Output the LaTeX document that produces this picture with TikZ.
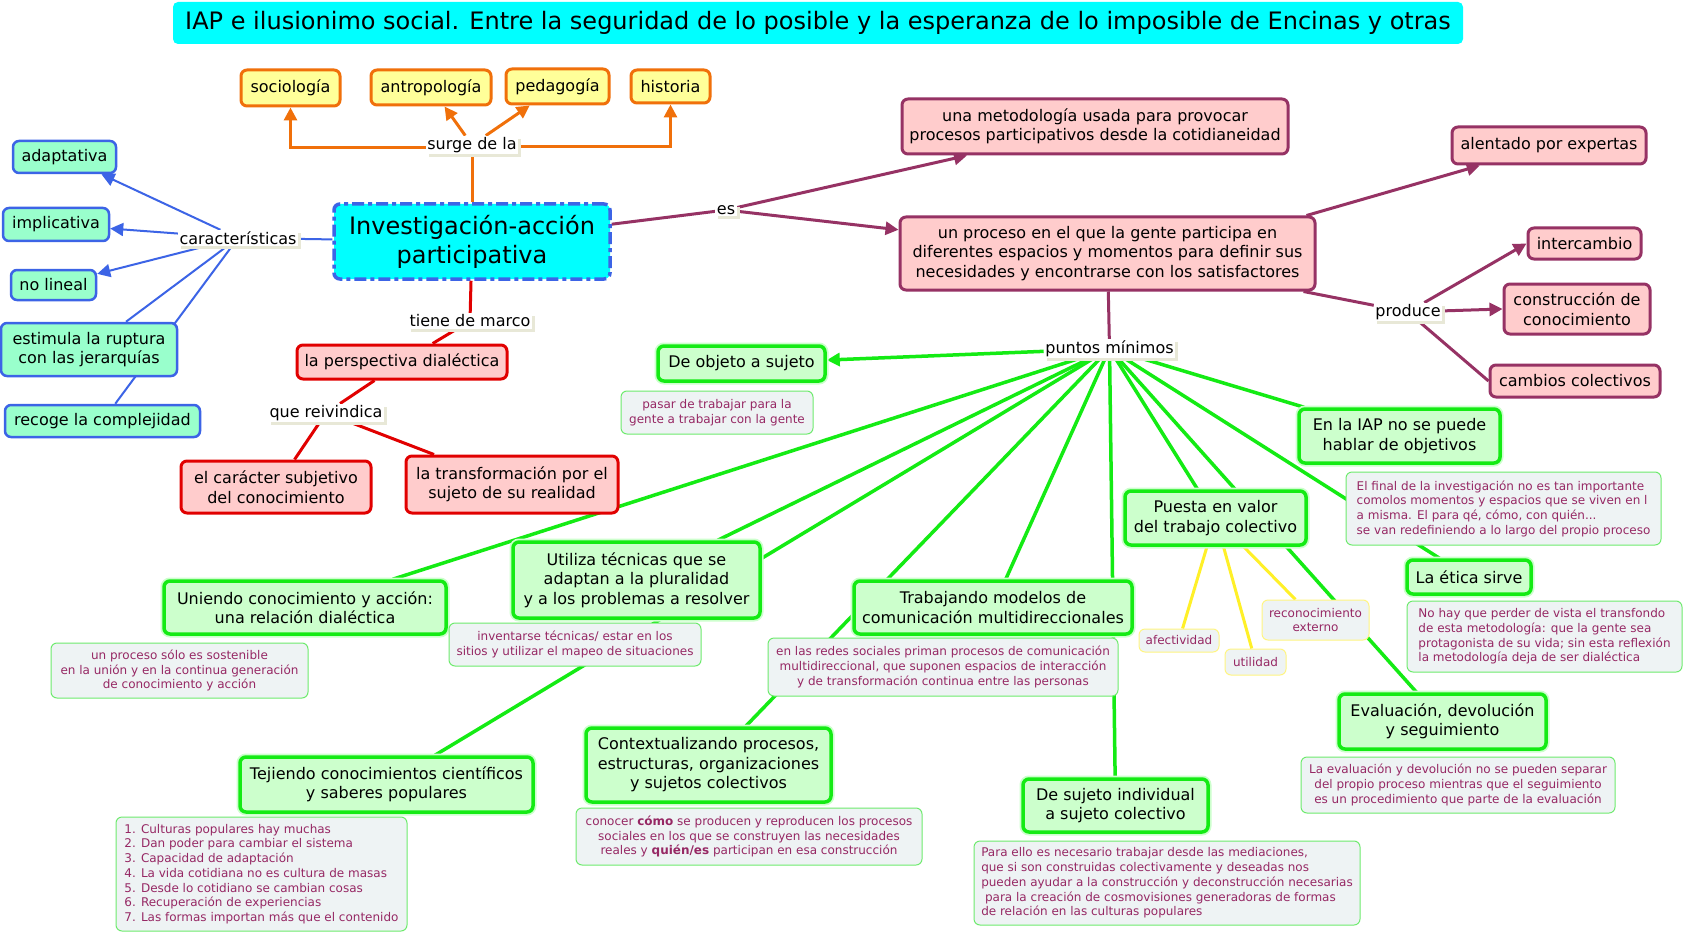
\documentclass[tikz,border=0pt]{standalone}
\usepackage{fontspec}
\setmainfont{DejaVu Sans}
\usetikzlibrary{arrows.meta,shadows,backgrounds}
\definecolor{cyanT}{RGB}{0,255,255}
\definecolor{orangeB}{RGB}{240,112,10}
\definecolor{yellowF}{RGB}{255,255,153}
\definecolor{blueB}{RGB}{60,100,230}
\definecolor{mintF}{RGB}{153,255,204}
\definecolor{purpleB}{RGB}{150,50,100}
\definecolor{pinkF}{RGB}{255,204,204}
\definecolor{redB}{RGB}{225,0,0}
\definecolor{greenB}{RGB}{20,235,20}
\definecolor{lgreenF}{RGB}{204,255,204}
\definecolor{glowc}{RGB}{205,255,205}
\definecolor{annF}{RGB}{238,243,244}
\definecolor{annB}{RGB}{110,235,110}
\definecolor{annT}{RGB}{150,40,100}
\definecolor{yelL}{RGB}{255,240,40}
\definecolor{yelB}{RGB}{255,245,130}
\definecolor{labShadow}{RGB}{232,232,215}
\begin{document}
\begin{tikzpicture}[x=1pt,y=-1pt,
  mainfont/.style={font=\fontsize{16}{19.5}\selectfont},
  basebox/.style={rounded corners=6pt, align=center, mainfont, inner sep=3pt},
  obox/.style={basebox, draw=orangeB, fill=yellowF, line width=3pt},
  bbox/.style={basebox, draw=blueB, fill=mintF, line width=2.5pt},
  pbox/.style={basebox, draw=purpleB, fill=pinkF, line width=3pt},
  rbox/.style={basebox, draw=redB, fill=pinkF, line width=3pt},
  gbox/.style={basebox, draw=greenB, fill=lgreenF, line width=3.5pt, preaction={draw=glowc, line width=7pt}},
  annot/.style={rounded corners=6pt, draw=annB, fill=annF, line width=1pt, text=annT, font=\fontsize{12}{14.7}\selectfont, inner sep=2pt},
  yannot/.style={annot, draw=yelB},
  lab/.style={mainfont, fill=white, inner sep=1.5pt, general shadow={fill=labShadow, shadow xshift=3pt, shadow yshift=-3pt}},
  tip/.style={-{Triangle[length=13pt,width=13pt]}},
  oline/.style={draw=orangeB, line width=3pt},
  bline/.style={draw=blueB, line width=2pt},
  pline/.style={draw=purpleB, line width=3pt},
  rline/.style={draw=redB, line width=3pt},
  gline/.style={draw=greenB, line width=3.5pt},
  yline/.style={draw=yelL, line width=3pt}
]
\useasboundingbox (0,0) rectangle (1685,933);

% title
\node[rounded corners=5pt, fill=cyanT, minimum width=1290pt, minimum height=42pt, font=\fontsize{24}{28}\selectfont] (title) at (818,23)
  {IAP e ilusionimo social. Entre la seguridad de lo posible y la esperanza de lo imposible de Encinas y otras};

% main concept
\node[rounded corners=6pt, draw=blueB, fill=cyanT, line width=3.5pt, dash pattern=on 12pt off 4pt on 4pt off 4pt,
  minimum width=276pt, minimum height=75pt, align=center, font=\fontsize{24}{29}\selectfont] (iap) at (472,241.5)
  {Investigación-acción\\participativa};

% orange
\node[obox, minimum width=99pt, minimum height=36pt] (socio) at (290.5,88) {sociología};
\node[obox, minimum width=120pt, minimum height=35pt] (antro) at (431,87.5) {antropología};
\node[obox, minimum width=103pt, minimum height=35pt] (peda) at (557.5,86.5) {pedagogía};
\node[obox, minimum width=79pt, minimum height=33pt] (hist) at (670.5,86.5) {historia};
\node[lab] (surge) at (472,145) {surge de la};

% blue
\node[bbox, minimum width=103pt, minimum height=32pt] (adapt) at (64.5,157) {adaptativa};
\node[bbox, minimum width=106pt, minimum height=33pt] (implic) at (56,224.5) {implicativa};
\node[bbox, minimum width=85pt, minimum height=30pt] (nolin) at (53.5,285) {no lineal};
\node[bbox, minimum width=176pt, minimum height=53pt] (estim) at (89,349.5) {estimula la ruptura\\con las jerarquías};
\node[bbox, minimum width=195pt, minimum height=32pt] (recoge) at (102.5,421) {recoge la complejidad};
\node[lab] (carac) at (238,238) {características};

% purple
\node[lab] (es) at (726,210) {es};
\node[pbox, minimum width=386pt, minimum height=55pt] (metod) at (1095,126.5) {una metodología usada para provocar\\procesos participativos desde la cotidianeidad};
\node[pbox, minimum width=415pt, minimum height=73pt] (proceso) at (1107.5,253.5) {un proceso en el que la gente participa en\\diferentes espacios y momentos para definir sus\\necesidades y encontrarse con los satisfactores};
\node[pbox, minimum width=194pt, minimum height=37pt] (alentado) at (1549,145.5) {alentado por expertas};
\node[lab] (produce) at (1408,312) {produce};
\node[pbox, minimum width=113pt, minimum height=31pt] (interc) at (1584.5,243.5) {intercambio};
\node[pbox, minimum width=146pt, minimum height=50pt] (constr) at (1577,309) {construcción de\\conocimiento};
\node[pbox, minimum width=170pt, minimum height=32pt] (cambios) at (1575,381) {cambios colectivos};

% red
\node[lab] (tiene) at (470,321) {tiene de marco};
\node[rbox, minimum width=210pt, minimum height=34pt] (persp) at (402,362) {la perspectiva dialéctica};
\node[lab] (reiv) at (326,413) {que reivindica};
\node[rbox, minimum width=190pt, minimum height=52pt] (caract) at (276,487) {el carácter subjetivo\\del conocimiento};
\node[rbox, minimum width=212pt, minimum height=57pt] (transf) at (512,484.5) {la transformación por el\\sujeto de su realidad};

% green
\node[lab] (puntos) at (1109.5,348.7) {puntos mínimos};
\node[gbox, minimum width=167pt, minimum height=35pt] (objeto) at (741.5,363.5) {De objeto a sujeto};
\node[gbox, minimum width=282pt, minimum height=53pt] (unir) at (305,607.5) {Uniendo conocimiento y acción:\\una relación dialéctica};
\node[gbox, minimum width=247pt, minimum height=76pt] (utiliza) at (636.5,580) {Utiliza técnicas que se\\adaptan a la pluralidad\\y a los problemas a resolver};
\node[gbox, minimum width=293pt, minimum height=55pt] (tejiendo) at (386.5,784.5) {Tejiendo conocimientos científicos\\y saberes populares};
\node[gbox, minimum width=278pt, minimum height=53pt] (trabaj) at (993,607.5) {Trabajando modelos de\\comunicación multidireccionales};
\node[gbox, minimum width=245pt, minimum height=74pt] (ctx) at (708.5,765) {Contextualizando procesos,\\estructuras, organizaciones\\y sujetos colectivos};
\node[gbox, minimum width=185pt, minimum height=53pt] (sujeto) at (1115.5,805.5) {De sujeto individual\\a sujeto colectivo};
\node[gbox, minimum width=181pt, minimum height=54pt] (puesta) at (1215.5,518) {Puesta en valor\\del trabajo colectivo};
\node[gbox, minimum width=207pt, minimum height=55pt] (evalu) at (1442.5,721.5) {Evaluación, devolución\\y seguimiento};
\node[gbox, minimum width=201pt, minimum height=54pt] (iapobj) at (1399.5,436) {En la IAP no se puede\\hablar de objetivos};
\node[gbox, minimum width=124pt, minimum height=34pt] (etica) at (1469,577) {La ética sirve};

% annotations
\node[annot, minimum width=192pt, minimum height=43pt, align=center] (aobj) at (717,412.5) {pasar de trabajar para la\\gente a trabajar con la gente};
\node[annot, minimum width=257pt, minimum height=55pt, align=center] (aunir) at (179.5,670.5) {un proceso sólo es sostenible\\en la unión y en la continua generación\\de conocimiento y acción};
\node[annot, minimum width=252pt, minimum height=43pt, align=center] (autil) at (575,644.5) {inventarse técnicas/ estar en los\\sitios y utilizar el mapeo de situaciones};
\node[annot, minimum width=291pt, minimum height=114pt, align=left] (atej) at (261.5,874) {1. Culturas populares hay muchas\\2. Dan poder para cambiar el sistema\\3. Capacidad de adaptación\\4. La vida cotidiana no es cultura de masas\\5. Desde lo cotidiano se cambian cosas\\6. Recuperación de experiencias\\7. Las formas importan más que el contenido};
\node[annot, minimum width=350pt, minimum height=58pt, align=center] (atrab) at (943,667) {en las redes sociales priman procesos de comunicación\\multidireccional, que suponen espacios de interacción\\y de transformación continua entre las personas};
\node[annot, minimum width=346pt, minimum height=57pt, align=center] (actx) at (749,836.5) {conocer \textbf{cómo} se producen y reproducen los procesos\\sociales en los que se construyen las necesidades\\reales y \textbf{quién/es} participan en esa construcción};
\node[annot, minimum width=386pt, minimum height=84pt, align=left] (asuj) at (1167,883) {Para ello es necesario trabajar desde las mediaciones,\\que si son construidas colectivamente y deseadas nos\\pueden ayudar a la construcción y deconstrucción necesarias\\\ para la creación de cosmovisiones generadoras de formas\\de relación en las culturas populares};
\node[annot, minimum width=314pt, minimum height=56pt, align=center] (aeval) at (1458,785) {La evaluación y devolución no se pueden separar\\del propio proceso mientras que el seguimiento\\es un procedimiento que parte de la evaluación};
\node[annot, minimum width=315pt, minimum height=73pt, align=left] (afinal) at (1503.5,508.5) {El final de la investigación no es tan importante\\comolos momentos y espacios que se viven en l\\a misma. El para qé, cómo, con quién...\\se van redefiniendo a lo largo del propio proceso};
\node[annot, minimum width=275pt, minimum height=71pt, align=left] (aetica) at (1544.5,636.5) {No hay que perder de vista el transfondo\\de esta metodología: que la gente sea\\protagonista de su vida; sin esta reflexión\\la metodología deja de ser dialéctica};
\node[yannot, minimum width=80pt, minimum height=23pt] (afect) at (1179,640.5) {afectividad};
\node[yannot, minimum width=61pt, minimum height=26pt] (util) at (1255.5,662) {utilidad};
\node[yannot, minimum width=107pt, minimum height=40pt, align=center] (recon) at (1315.5,620) {reconocimiento\\externo};

\begin{pgfonlayer}{background}
\fill[white] (0,0) rectangle (1685,933);
% orange
\draw[oline] (iap.north) -- (surge.south);
\draw[oline,tip] ([yshift=-3pt]surge.west) -| (socio.south);
\draw[oline,tip] ([yshift=-2pt]surge.east) -| (hist.south);
\draw[oline,tip] (surge) -- (antro);
\draw[oline,tip] (surge) -- (peda);
% blue
\draw[bline] (iap) -- (carac);
\draw[bline,tip] (carac) -- (adapt);
\draw[bline,tip] (carac) -- (implic);
\draw[bline,tip] (carac) -- (nolin);
\draw[bline] (carac) -- (estim);
\draw[bline] (carac) -- (recoge);
% purple
\draw[pline] (iap) -- (es);
\draw[pline,tip] (es) -- (metod);
\draw[pline,tip] (es) -- (proceso);
\draw[pline,tip] ([xshift=-10pt]proceso.north east) -- (alentado);
\draw[pline] ([xshift=-13pt]proceso.south east) -- (produce);
\draw[pline,tip] (produce) -- (interc.west);
\draw[pline,tip] (produce) -- (constr.west);
\draw[pline] (produce) -- (cambios.west);
% red
\draw[rline] (iap) -- (tiene);
\draw[rline] (tiene) -- (persp);
\draw[rline] (persp) -- (reiv);
\draw[rline] (reiv) -- (caract);
\draw[rline] (reiv) -- (transf);
% green
\draw[pline] (proceso) -- (puntos);
\draw[gline,tip] (puntos) -- (objeto);
\draw[gline] (puntos) -- (unir);
\draw[gline] (puntos) -- (utiliza);
\draw[gline] (puntos) -- (tejiendo);
\draw[gline] (puntos) -- (trabaj);
\draw[gline] (puntos) -- (ctx);
\draw[gline] (puntos) -- (sujeto);
\draw[gline] (puntos) -- (puesta);
\draw[gline] (puntos) -- (evalu);
\draw[gline] (puntos) -- (iapobj);
\draw[gline] (puntos) -- (etica);
% yellow
\draw[yline] (puesta) -- (afect);
\draw[yline] (puesta) -- (util);
\draw[yline] (puesta) -- (recon);
\end{pgfonlayer}
\end{tikzpicture}
\end{document}
